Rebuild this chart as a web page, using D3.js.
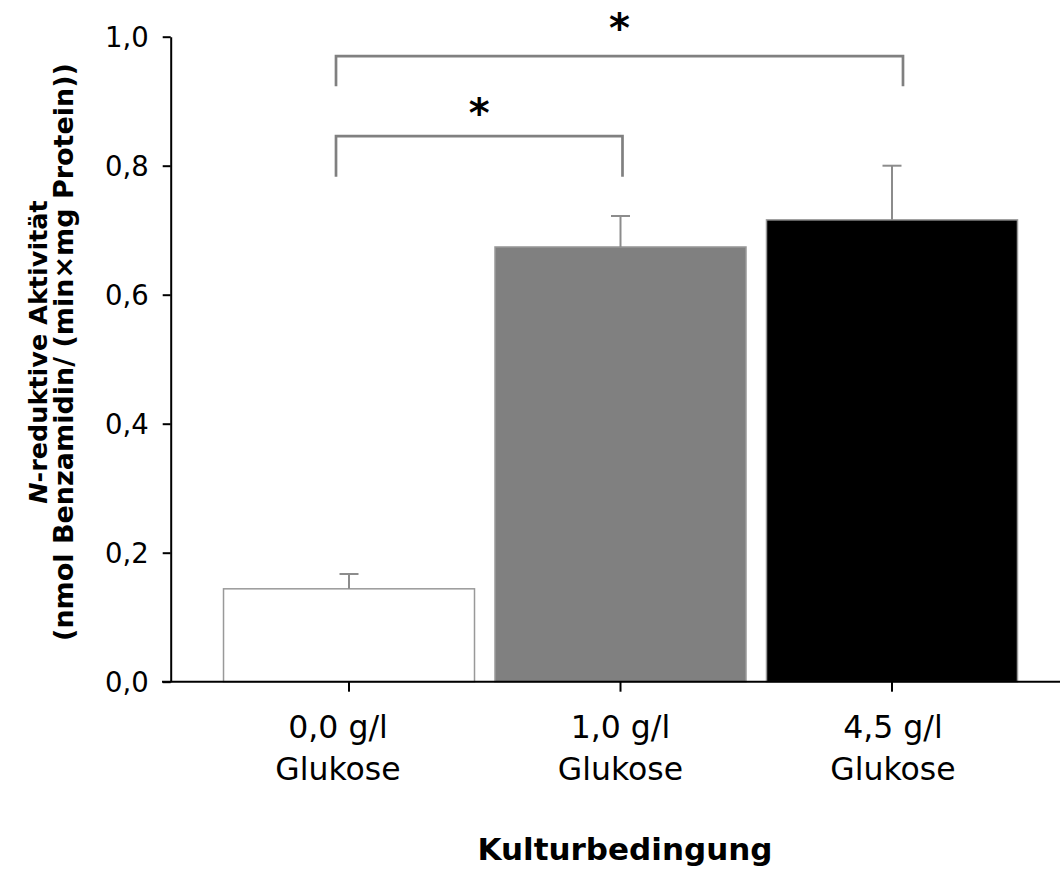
<!DOCTYPE html>
<html><head><meta charset="utf-8">
<script src="https://cdn.jsdelivr.net/npm/d3@7"></script>
<style>body{margin:0;background:#fff}svg{display:block}</style>
</head><body>
<svg id="c" width="1060" height="871"></svg>
<script>
const categories = ["0,0 g/l|Glukose", "1,0 g/l|Glukose", "4,5 g/l|Glukose"];
const means = [0.144, 0.674, 0.716];
const errors = [0.023, 0.048, 0.084];
const fills = ["#ffffff", "#808080", "#000000"];
const yTicks = [0, 0.2, 0.4, 0.6, 0.8, 1.0];
const brackets = [
  {from: 0, to: 1, level: 0.846, leg: 0.783, labelAt: 0.889, label: "*"},
  {from: 0, to: 2, level: 0.970, leg: 0.923, labelAt: 1.021, label: "*"}
];
const fmt = v => d3.format(".1f")(v).replace(".", ",");

const svg = d3.select("#c");
const y = d3.scaleLinear().domain([0, 1]).range([681.7, 36.7]);
const x = d3.scaleBand().domain(categories).range([213.25, 1027.75]).paddingInner(0.0755).paddingOuter(0.0378);
const cx = c => x(c) + x.bandwidth() / 2;
const font = "'DejaVu Sans', Verdana, sans-serif";
const labelShift = [-11, 0, 1];

// bars
svg.selectAll("rect.bar").data(categories).join("rect")
  .attr("x", d => x(d)).attr("width", x.bandwidth())
  .attr("y", (d, i) => y(means[i])).attr("height", (d, i) => y(0) - y(means[i]))
  .attr("fill", (d, i) => fills[i]).attr("stroke", "#999").attr("stroke-width", 1.5);

// error bars
const eg = svg.append("g").attr("stroke", "#8c8c8c").attr("stroke-width", 2);
categories.forEach((c, i) => {
  eg.append("line").attr("x1", cx(c)).attr("x2", cx(c)).attr("y1", y(means[i])).attr("y2", y(means[i] + errors[i]));
  eg.append("line").attr("x1", cx(c) - 9.5).attr("x2", cx(c) + 9.5).attr("y1", y(means[i] + errors[i])).attr("y2", y(means[i] + errors[i]));
});

// y axis
const ya = svg.append("g").attr("transform", "translate(170.7,0)")
  .call(d3.axisLeft(y).tickValues(yTicks).tickFormat(fmt).tickSize(8).tickSizeOuter(0).tickPadding(14));
ya.select(".domain").attr("stroke", "#000").attr("stroke-width", 2);
ya.selectAll(".tick line").attr("stroke", "#000").attr("stroke-width", 2);
ya.selectAll(".tick text").attr("font-family", font).attr("font-size", 27.5).attr("fill", "#000").attr("dy", "0.36em");

// x axis
const xa = svg.append("g").attr("transform", `translate(0,${y(0)})`)
  .call(d3.axisBottom(x).tickSize(10).tickSizeOuter(0).tickFormat(""));
xa.select(".domain").attr("d", `M162,0H1060`).attr("stroke", "#000").attr("stroke-width", 2);
xa.selectAll(".tick line").attr("stroke", "#000").attr("stroke-width", 2);
xa.selectAll(".tick").each(function(d, i) {
  const parts = d.split("|");
  const t = d3.select(this).append("text").attr("font-family", font).attr("font-size", 31.5).attr("fill", "#000").attr("text-anchor", "middle");
  parts.forEach((p, k) => t.append("tspan").attr("x", labelShift[i]).attr("y", 56 + k * 42).text(p));
});

// brackets
const bg = svg.append("g").attr("stroke", "#808080").attr("stroke-width", 2.7).attr("fill", "none");
brackets.forEach((b, k) => {
  const x1 = cx(categories[b.from]) - 13;
  const x2 = cx(categories[b.to]) + (k === 0 ? 2 : 11);
  bg.append("path").attr("d", `M${x1},${y(b.leg)}V${y(b.level)}H${x2}V${y(b.leg)}`);
  svg.append("text").attr("x", (x1 + x2) / 2).attr("y", y(b.labelAt) + 19)
    .attr("font-family", font).attr("font-weight", "bold").attr("font-size", 40).attr("text-anchor", "middle").text(b.label);
});

// axis titles
const yt = svg.append("text").attr("transform", "translate(0,352) rotate(-90)")
  .attr("font-family", font).attr("font-weight", "bold").attr("text-anchor", "middle");
const l1 = yt.append("tspan").attr("x", 0).attr("y", 47).attr("font-size", 25.5);
l1.append("tspan").attr("font-style", "italic").text("N");
l1.append("tspan").text("-reduktive Aktivität");
yt.append("tspan").attr("x", 0).attr("y", 73).attr("font-size", 27).text("(nmol Benzamidin/ (min×mg Protein))");

svg.append("text").attr("x", 625).attr("y", 860).attr("text-anchor", "middle")
  .attr("font-family", font).attr("font-weight", "bold").attr("font-size", 31).text("Kulturbedingung");
</script>
</body></html>
